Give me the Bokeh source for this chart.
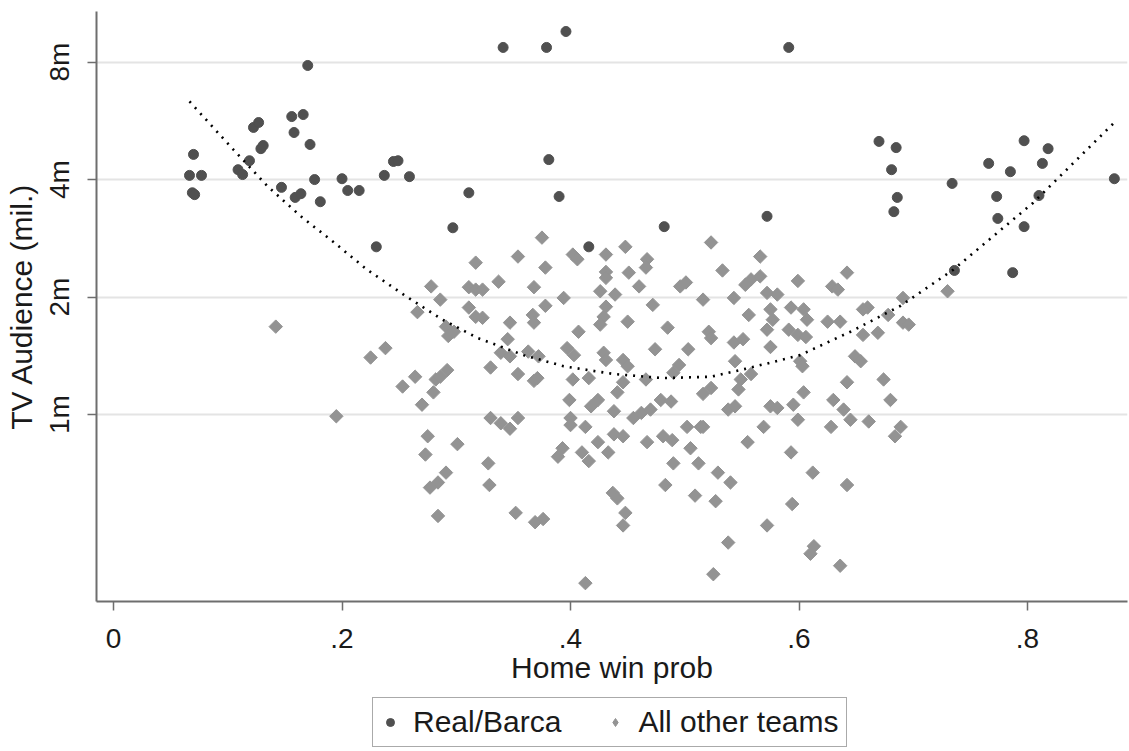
import numpy as np
from bokeh.plotting import figure
from bokeh.layouts import column
from bokeh.models import Range1d, FixedTicker, Legend, LegendItem, ColumnDataSource
from bokeh.embed import file_html
from bokeh.resources import INLINE

# ---- data ----
rb_prob = [0.070, 0.0665, 0.077, 0.069, 0.071, 0.109, 0.113, 0.119, 0.1225, 0.127,
           0.129, 0.131, 0.147, 0.156, 0.166, 0.158, 0.172, 0.170, 0.159, 0.164,
           0.176, 0.181, 0.200, 0.205, 0.215, 0.230, 0.237, 0.245, 0.249, 0.259,
           0.341, 0.379, 0.396, 0.311, 0.297, 0.381, 0.390, 0.416, 0.482, 0.572,
           0.591, 0.670, 0.685, 0.681, 0.686, 0.683, 0.734, 0.766, 0.785, 0.773,
           0.774, 0.797, 0.818, 0.813, 0.810, 0.797, 0.787, 0.736, 0.876]
rb_aud = [4.64, 4.10, 4.10, 3.70, 3.66, 4.24, 4.12, 4.47, 5.44, 5.60,
          4.80, 4.89, 3.82, 5.80, 5.87, 5.28, 4.92, 7.84, 3.60, 3.68,
          4.00, 3.51, 4.02, 3.75, 3.75, 2.69, 4.10, 4.45, 4.47, 4.07,
          8.72, 8.72, 9.58, 3.70, 3.01, 4.50, 3.62, 2.69, 3.03, 3.22,
          8.72, 5.01, 4.83, 4.24, 3.60, 3.31, 3.91, 4.40, 4.19, 3.62,
          3.18, 5.03, 4.80, 4.40, 3.64, 3.03, 2.31, 2.34, 4.02]

oth_prob = [0.142, 0.195, 0.225, 0.238, 0.253, 0.264, 0.266, 0.278, 0.286, 0.311,
            0.317, 0.311, 0.317, 0.291, 0.298, 0.293, 0.317, 0.292, 0.282, 0.286,
            0.280, 0.270, 0.275, 0.273, 0.301, 0.291, 0.284, 0.277, 0.284, 0.330,
            0.339, 0.347, 0.354, 0.328, 0.329, 0.352, 0.369, 0.376, 0.330, 0.354,
            0.368, 0.371, 0.347, 0.367, 0.368, 0.323, 0.378, 0.345, 0.339, 0.347,
            0.363, 0.372, 0.397, 0.403, 0.407, 0.399, 0.402, 0.416, 0.400, 0.400,
            0.413, 0.418, 0.424, 0.438, 0.393, 0.389, 0.410, 0.416, 0.424, 0.433,
            0.438, 0.446, 0.455, 0.462, 0.470, 0.467, 0.481, 0.489, 0.502, 0.514,
            0.505, 0.490, 0.512, 0.483, 0.509, 0.437, 0.441, 0.448, 0.446, 0.413,
            0.529, 0.540, 0.527, 0.538, 0.525, 0.572, 0.429, 0.431, 0.431, 0.429,
            0.426, 0.431, 0.431, 0.426, 0.439, 0.446, 0.450, 0.450, 0.446, 0.441,
            0.479, 0.488, 0.485, 0.474, 0.466, 0.495, 0.490, 0.503, 0.521, 0.523,
            0.523, 0.516, 0.543, 0.551, 0.544, 0.549, 0.547, 0.558, 0.538, 0.544,
            0.575, 0.581, 0.569, 0.555, 0.575, 0.575, 0.577, 0.572, 0.556, 0.516,
            0.375, 0.354, 0.337, 0.323, 0.378, 0.402, 0.406, 0.431, 0.448, 0.467,
            0.466, 0.451, 0.368, 0.394, 0.460, 0.472, 0.496, 0.501, 0.516, 0.523,
            0.566, 0.533, 0.558, 0.566, 0.553, 0.599, 0.642, 0.629, 0.634, 0.543,
            0.572, 0.581, 0.593, 0.604, 0.607, 0.660, 0.656, 0.625, 0.636, 0.691,
            0.678, 0.691, 0.696, 0.669, 0.656, 0.591, 0.599, 0.606, 0.601, 0.603,
            0.649, 0.654, 0.642, 0.674, 0.680, 0.604, 0.630, 0.595, 0.599, 0.639,
            0.645, 0.661, 0.628, 0.689, 0.684, 0.593, 0.612, 0.642, 0.594, 0.613,
            0.610, 0.636, 0.730]
oth_aud = [1.68, 0.99, 1.40, 1.48, 1.18, 1.25, 1.83, 2.13, 1.97, 2.12,
           2.09, 1.88, 1.78, 1.68, 1.63, 1.59, 2.45, 1.30, 1.23, 1.25,
           1.14, 1.06, 0.88, 0.79, 0.84, 0.71, 0.67, 0.65, 0.55, 0.98,
           0.95, 0.92, 0.98, 0.75, 0.66, 0.56, 0.53, 0.54, 1.32, 1.27,
           1.22, 1.24, 1.72, 1.80, 1.72, 1.77, 1.90, 1.56, 1.44, 1.41,
           1.45, 1.41, 1.48, 1.42, 1.63, 1.09, 1.23, 1.24, 0.98, 0.94,
           0.93, 1.05, 1.09, 1.02, 0.82, 0.78, 0.80, 0.76, 0.85, 0.80,
           0.89, 0.88, 0.98, 1.01, 1.03, 0.85, 0.88, 0.86, 0.93, 0.93,
           0.82, 0.75, 0.75, 0.66, 0.62, 0.63, 0.61, 0.56, 0.52, 0.37,
           0.71, 0.67, 0.60, 0.47, 0.39, 0.52, 1.44, 1.38, 1.89, 1.78,
           1.70, 2.32, 2.24, 2.07, 2.03, 1.38, 1.33, 1.73, 1.21, 1.14,
           1.09, 1.08, 1.67, 1.47, 1.23, 1.34, 1.28, 1.47, 1.63, 1.57,
           1.17, 1.13, 1.53, 1.56, 1.37, 1.23, 1.16, 1.27, 1.03, 1.05,
           1.05, 1.04, 0.93, 0.85, 1.49, 1.86, 1.75, 1.65, 1.80, 0.93,
           2.84, 2.54, 2.19, 2.09, 2.38, 2.57, 2.50, 2.57, 2.69, 2.50,
           2.38, 2.31, 2.12, 1.99, 2.13, 1.91, 2.13, 2.18, 1.97, 2.76,
           2.54, 2.34, 2.22, 2.26, 2.15, 2.20, 2.31, 2.13, 2.09, 1.99,
           2.05, 2.03, 1.88, 1.86, 1.75, 1.88, 1.86, 1.73, 1.73, 1.99,
           1.80, 1.72, 1.70, 1.62, 1.60, 1.65, 1.60, 1.58, 1.37, 1.33,
           1.41, 1.37, 1.21, 1.23, 1.09, 1.14, 1.09, 1.06, 0.97, 1.03,
           0.97, 0.96, 0.93, 0.93, 0.88, 0.80, 0.71, 0.66, 0.59, 0.46,
           0.44, 0.41, 2.07]

# quadratic-fit curve
fit_prob = [0.0665, 0.105, 0.135, 0.164, 0.193, 0.222, 0.256, 0.288, 0.319, 0.359,
            0.394, 0.438, 0.481, 0.523, 0.558, 0.601, 0.645, 0.689, 0.735, 0.805, 0.876]
fit_aud = [6.34, 4.77, 3.84, 3.22, 2.76, 2.35, 2.01, 1.75, 1.57, 1.42,
           1.33, 1.27, 1.24, 1.25, 1.32, 1.42, 1.63, 1.90, 2.35, 3.49, 5.60]

x_ticks = [0, 0.2, 0.4, 0.6, 0.8]
x_tick_labels = ["0", ".2", ".4", ".6", ".8"]
y_ticks = [1, 2, 4, 8]
y_tick_labels = ["1m", "2m", "4m", "8m"]
series_labels = ["Real/Barca", "All other teams"]

FONT = "Liberation Sans"
TXT = "#1a1a1a"
RB_COL = "#505050"
OT_COL = "#939393"

src_rb = ColumnDataSource(dict(x=rb_prob, y=rb_aud))
src_ot = ColumnDataSource(dict(x=oth_prob, y=oth_aud))

p = figure(frame_width=1031, frame_height=590,
           x_range=Range1d(-0.0149, 0.8875), y_range=Range1d(0.332, 10.78),
           y_axis_type="log", output_backend="svg", toolbar_location=None,
           min_border_top=11, min_border_right=2, min_border_left=96, min_border_bottom=96,
           background_fill_color="white", border_fill_color="white")
p.outline_line_color = None

# grid
p.xgrid.grid_line_color = None
p.ygrid.grid_line_color = "#e4e4e4"
p.ygrid.grid_line_width = 2
p.ygrid.ticker = FixedTicker(ticks=y_ticks)

# axes
p.xaxis.ticker = FixedTicker(ticks=x_ticks)
p.xaxis.major_label_overrides = {t: l for t, l in zip(x_ticks, x_tick_labels)}
p.yaxis.ticker = FixedTicker(ticks=y_ticks)
p.yaxis.major_label_overrides = {t: l for t, l in zip(y_ticks, y_tick_labels)}
p.yaxis.major_label_orientation = "vertical"
for ax in (p.xaxis[0], p.yaxis[0]):
    ax.axis_line_color = "#6e6e6e"
    ax.axis_line_width = 2
    ax.major_tick_line_color = "#6e6e6e"
    ax.major_tick_line_width = 1.5
    ax.major_tick_out = 9
    ax.major_tick_in = 0
    ax.minor_tick_line_color = None
    ax.major_label_text_font = FONT
    ax.major_label_text_font_size = "28px"
    ax.major_label_text_color = TXT
    ax.axis_label_text_font = FONT
    ax.axis_label_text_font_size = "30px"
    ax.axis_label_text_font_style = "normal"
    ax.axis_label_text_color = TXT
p.xaxis.axis_label = "Home win prob"
p.yaxis.axis_label = "TV Audience (mil.)"
p.xaxis.major_label_standoff = 18
p.xaxis.axis_label_standoff = 0
p.yaxis.major_label_standoff = 12
p.yaxis.axis_label_standoff = 4

# points
p.scatter("x", "y", source=src_rb, marker="circle", size=10,
          fill_color=RB_COL, line_color=RB_COL)
p.scatter("x", "y", source=src_ot, marker="square", size=9.5, angle=np.pi / 4,
          fill_color=OT_COL, line_color=OT_COL)

# fitted curve
p.line(fit_prob, fit_aud, line_color="black", line_width=2.6, line_dash="2 6")

# legend strip below the chart (its renderers share the data but their
# range shows none of the points, so only the legend is visible)
p2 = figure(frame_width=1031, height=50, x_range=Range1d(0, 1), y_range=Range1d(50, 51),
            x_axis_location=None, y_axis_location=None,
            output_backend="svg", toolbar_location=None,
            min_border_left=96, min_border_right=2, min_border_top=0, min_border_bottom=0,
            background_fill_color="white", border_fill_color="white")
p2.outline_line_color = None
p2.grid.visible = False
l_rb = p2.scatter("x", "y", source=src_rb, marker="circle", size=7,
                  fill_color=RB_COL, line_color=RB_COL)
l_ot = p2.scatter("x", "y", source=src_ot, marker="diamond", size=7,
                  fill_color=OT_COL, line_color=OT_COL)
legend = Legend(items=[LegendItem(label=series_labels[0], renderers=[l_rb], index=0),
                       LegendItem(label=series_labels[1], renderers=[l_ot], index=0)],
                orientation="horizontal", location=(276, 0),
                label_text_font=FONT, label_text_font_size="30px",
                label_text_color=TXT, border_line_color="#555555",
                border_line_width=1.5, background_fill_color="white",
                glyph_width=20, glyph_height=20, label_standoff=13,
                spacing=44, padding=7, margin=0)
p2.add_layout(legend, "center")

open("out.html", "w").write(file_html(column(p, p2, spacing=0), INLINE))
